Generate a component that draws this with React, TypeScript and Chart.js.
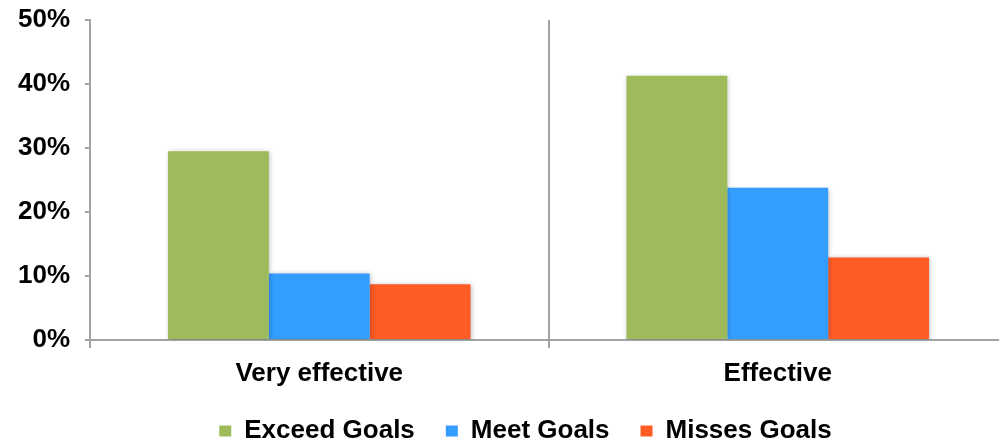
import React, { useEffect, useRef } from "react";
import { Chart, registerables } from "chart.js";

Chart.register(...registerables);

// Share of respondents by rating and goal outcome (percent)
const categories = ["Very effective", "Effective"];
const exceedGoals = [29.5, 41.3];
const meetGoals = [10.4, 23.8];
const missesGoals = [8.7, 12.9];
const seriesLabels = ["Exceed Goals", "Meet Goals", "Misses Goals"];
const yTicks = [0, 10, 20, 30, 40, 50];

const COLORS = ["#9dbb5a", "#339eff", "#ff5b25"];
const AXIS_GRAY = "#a3a3a3";
const FONT_FAMILY = '"Liberation Sans", Arial, Helvetica, sans-serif';

// Soft drop shadow behind the bars
const barShadow = {
  id: "barShadow",
  beforeDatasetsDraw(chart: any) {
    const ctx = chart.ctx;
    ctx.save();
    ctx.shadowColor = "rgba(0,0,0,0.28)";
    ctx.shadowBlur = 5;
    ctx.shadowOffsetX = 1;
    ctx.shadowOffsetY = 1;
  },
  afterDatasetsDraw(chart: any) {
    chart.ctx.restore();
  },
};

// Nudge the legend row to the right of the canvas centre
const legendShift = {
  id: "legendShift",
  afterLayout(chart: any) {
    const legend = chart.legend;
    if (!legend) return;
    legend.left += 22;
    legend.right += 22;
  },
};

export default function App() {
  const canvasRef = useRef<HTMLCanvasElement | null>(null);

  useEffect(() => {
    const canvas = canvasRef.current;
    if (!canvas) return;
    const values = [exceedGoals, meetGoals, missesGoals];
    const chart = new Chart(canvas, {
      type: "bar",
      data: {
        labels: categories,
        datasets: seriesLabels.map((label, i) => ({
          label,
          data: values[i],
          backgroundColor: COLORS[i],
          borderWidth: 0,
          categoryPercentage: 0.66,
          barPercentage: 1,
        })),
      },
      plugins: [barShadow, legendShift],
      options: {
        responsive: false,
        animation: false,
        events: [],
        layout: { padding: { left: 0, right: 3, top: 20, bottom: 0 } },
        font: { family: FONT_FAMILY },
        plugins: {
          tooltip: { enabled: false },
          legend: {
            position: "bottom",
            labels: {
              boxWidth: 12,
              boxHeight: 11,
              padding: 31,
              color: "#000",
              font: { family: FONT_FAMILY, size: 26, weight: "bold" },
            },
          },
        },
        scales: {
          x: {
            offset: true,
            grid: {
              offset: true,
              drawOnChartArea: true,
              color: (ctx: any) => (ctx.index === 1 ? AXIS_GRAY : "rgba(0,0,0,0)"),
              tickColor: AXIS_GRAY,
              lineWidth: 2,
              tickLength: 8,
            },
            border: { color: AXIS_GRAY, width: 2 },
            ticks: {
              color: "#000",
              padding: 10,
              font: { family: FONT_FAMILY, size: 26, weight: "bold" },
            },
            afterFit(scale: any) {
              scale.height = 47;
              scale.paddingTop = 0;
              scale.paddingBottom = 0;
            },
          },
          y: {
            min: yTicks[0],
            max: yTicks[yTicks.length - 1],
            afterBuildTicks(scale: any) {
              scale.ticks = yTicks.map((v) => ({ value: v }));
            },
            grid: {
              drawOnChartArea: false,
              tickColor: AXIS_GRAY,
              tickLength: 5,
              lineWidth: 2,
            },
            border: { color: AXIS_GRAY, width: 2 },
            ticks: {
              color: "#000",
              padding: 15,
              font: { family: FONT_FAMILY, size: 26, weight: "bold" },
              callback: (v: any) => `${v}%`,
            },
            afterFit(scale: any) {
              scale.width = 90;
              scale.paddingTop = 0;
              scale.paddingBottom = 0;
            },
          },
        },
      } as any,
    });
    return () => chart.destroy();
  }, []);

  return (
    <div
      style={{
        position: "fixed",
        left: 0,
        top: 0,
        width: 999,
        height: 443,
        overflow: "hidden",
        background: "#fff",
      }}
    >
      <canvas ref={canvasRef} width={1010} height={454} style={{ display: "block" }} />
    </div>
  );
}
